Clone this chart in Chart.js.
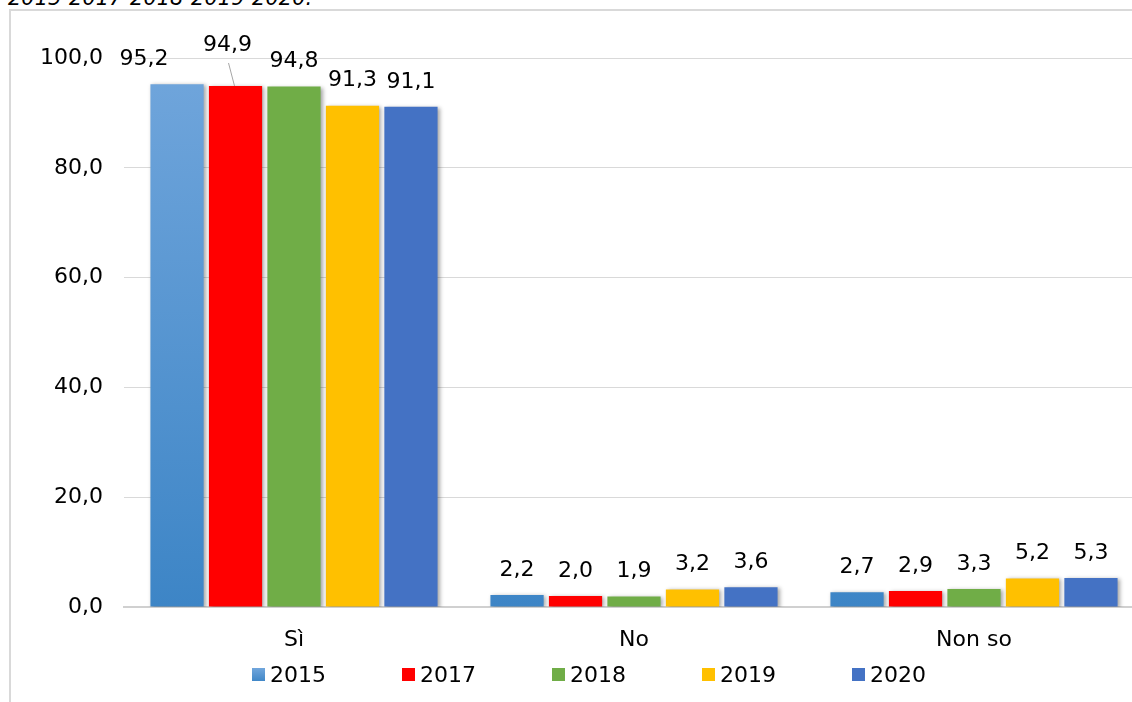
<!DOCTYPE html>
<html>
<head>
<meta charset="utf-8">
<script src="https://cdn.jsdelivr.net/npm/chart.js@4/dist/chart.umd.min.js"></script>
<style>
  html, body { margin: 0; padding: 0; background: #fff; overflow: hidden; width: 1132px; height: 702px; }
  #caption { position: absolute; left: 8px; top: -14px; font: italic 21px "DejaVu Sans", Verdana, sans-serif; line-height: 24px; color: #000; white-space: nowrap; }
  #frame { position: absolute; left: 9px; top: 9px; width: 1160px; height: 720px; border-left: 2px solid #d9d9d9; border-top: 2px solid #d9d9d9; }
  #c { position: absolute; left: -1px; top: -1px; }
</style>
</head>
<body>
<div id="caption">2015-2017-2018-2019-2020.</div>
<div id="frame"><canvas id="c" width="1158" height="700"></canvas></div>
<script>
const categories = ["Sì", "No", "Non so"];
const seriesNames = ["2015", "2017", "2018", "2019", "2020"];
const v2015 = [95.2, 2.2, 2.7];
const v2017 = [94.9, 2.0, 2.9];
const v2018 = [94.8, 1.9, 3.3];
const v2019 = [91.3, 3.2, 5.2];
const v2020 = [91.1, 3.6, 5.3];
const yTicks = [0, 20, 40, 60, 80, 100];
const colors = ["grad", "#ff0000", "#70ad47", "#ffc000", "#4472c4"];

const FONT = '"DejaVu Sans", Verdana, sans-serif';
const fmt = v => v.toFixed(1).replace('.', ',');

function grad2015(ctx, top, bottom) {
  const g = ctx.createLinearGradient(0, top, 0, bottom);
  g.addColorStop(0, '#71a6dc');
  g.addColorStop(1, '#3d85c6');
  return g;
}

const allValues = [v2015, v2017, v2018, v2019, v2020];
const datasets = seriesNames.map((name, i) => ({
  label: name,
  data: allValues[i],
  backgroundColor: colors[i] === 'grad'
    ? (c) => { const a = c.chart.chartArea; if (!a) return '#5b9bd5'; return grad2015(c.chart.ctx, a.top, a.bottom); }
    : colors[i],
  borderWidth: 0,
  categoryPercentage: 0.86,
  barPercentage: 0.91
}));

const shadowPlugin = {
  id: 'shadow',
  beforeDatasetsDraw(chart) {
    const ctx = chart.ctx;
    ctx.save();
    ctx.shadowColor = 'rgba(0,0,0,0.35)';
    ctx.shadowBlur = 4;
    ctx.shadowOffsetX = 2;
    ctx.shadowOffsetY = 1;
  },
  afterDatasetsDraw(chart) { chart.ctx.restore(); }
};

const labelPlugin = {
  id: 'dlabels',
  afterDatasetsDraw(chart) {
    const ctx = chart.ctx;
    ctx.save();
    ctx.font = '22px ' + FONT;
    ctx.fillStyle = '#000';
    ctx.textAlign = 'center';
    ctx.textBaseline = 'middle';
    chart.data.datasets.forEach((ds, di) => {
      chart.getDatasetMeta(di).data.forEach((bar, i) => {
        const txt = fmt(ds.data[i]);
        if (di === 1 && i === 0) {
          // label moved up with a leader line
          ctx.strokeStyle = '#a6a6a6';
          ctx.lineWidth = 1;
          ctx.beginPath();
          ctx.moveTo(bar.x - 7, bar.y - 23);
          ctx.lineTo(bar.x - 1, bar.y);
          ctx.stroke();
          ctx.fillText(txt, bar.x - 8, bar.y - 41);
        } else if (di === 0 && i === 0) {
          // label moved left
          ctx.fillText(txt, bar.x - 33, bar.y - 25);
        } else {
          ctx.fillText(txt, bar.x, bar.y - 25);
        }
      });
    });
    ctx.restore();
  }
};

const legendPlugin = {
  id: 'customLegend',
  afterDraw(chart) {
    const ctx = chart.ctx;
    const a = chart.chartArea;
    ctx.save();
    ctx.font = '22px ' + FONT;
    ctx.textAlign = 'left';
    ctx.textBaseline = 'middle';
    const step = 150, n = chart.data.datasets.length;
    const startX = chart.width / 2 - ((n - 1) * step + 74) / 2;
    const cy = a.bottom + 68;
    chart.data.datasets.forEach((ds, i) => {
      const x = startX + i * step;
      ctx.fillStyle = colors[i] === 'grad' ? grad2015(ctx, cy - 7, cy + 7) : colors[i];
      ctx.fillRect(x, cy - 7, 13, 13);
      ctx.fillStyle = '#000';
      ctx.fillText(ds.label, x + 18, cy + 1);
    });
    ctx.restore();
  }
};

new Chart(document.getElementById('c'), {
  type: 'bar',
  data: { labels: categories, datasets },
  options: {
    responsive: false,
    animation: false,
    layout: { padding: { top: 48, right: 24, bottom: 43, left: 0 } },
    plugins: { legend: { display: false }, tooltip: { enabled: false } },
    scales: {
      x: {
        grid: { display: false, drawTicks: false },
        border: { display: true, color: '#d0d0d0', width: 2 },
        ticks: { color: '#000', font: { family: FONT, size: 22 }, padding: 20 },
        afterFit(s) { s.height = 60; }
      },
      y: {
        min: 0, max: 100,
        afterBuildTicks(s) { s.ticks = yTicks.map(v => ({ value: v })); },
        grid: { color: '#d9d9d9', lineWidth: 1, drawTicks: false },
        border: { display: false },
        ticks: { color: '#000', font: { family: FONT, size: 22 }, padding: 21, callback: v => fmt(v) },
        afterFit(s) { s.width = 114; }
      }
    }
  },
  plugins: [shadowPlugin, labelPlugin, legendPlugin]
});
</script>
</body>
</html>
